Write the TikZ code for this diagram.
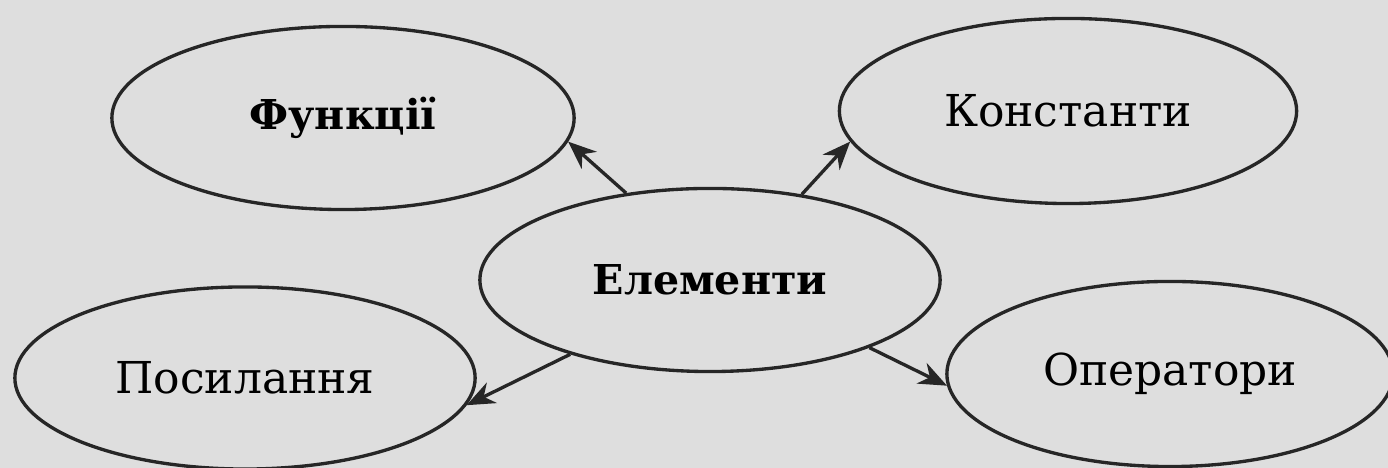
\documentclass[tikz,border=0pt]{standalone}
\usepackage{fontspec}
\setmainfont{DejaVu Serif}
\usetikzlibrary{shapes.geometric,arrows.meta}
\definecolor{paper}{HTML}{DEDEDE}
\tikzset{
  oval/.style={ellipse, draw=black!85, line width=0.95pt, inner sep=0pt, font=\fontsize{12.5}{15}\selectfont},
  boldlabel/.style={font=\fontsize{11.7}{14}\selectfont\bfseries},
  conn/.style={line width=0.95pt, draw=black!85, -{Stealth[length=8pt,width=6.5pt]}}
}
\begin{document}
\begin{tikzpicture}[x=0.01cm,y=-0.01cm]
\fill[paper] (0,0) rectangle (1388,468);
\useasboundingbox (0,0) rectangle (1388,468);
\clip (0,0) rectangle (1388,468);
\node[oval, boldlabel, minimum width=4.62cm, minimum height=1.83cm] (fn) at (343,118) {Функції};
\node[oval, minimum width=4.57cm, minimum height=1.85cm] (ko) at (1068,111) {Константи};
\node[oval, boldlabel, minimum width=4.60cm, minimum height=1.83cm] (el) at (710,280) {Елементи};
\node[oval, minimum width=4.60cm, minimum height=1.82cm] (po) at (245,378) {Посилання};
\node[oval, minimum width=4.46cm, minimum height=1.85cm] (op) at (1170,374) {Оператори};
\draw[conn] (el.134.7) -- (fn.-6.3);
\draw[conn] (el.43.7) -- (ko.188.5);
\draw[conn] (el.208.4) -- (po.-7.4);
\draw[conn] (el.337.5) -- (op.183.6);
\end{tikzpicture}
\end{document}
